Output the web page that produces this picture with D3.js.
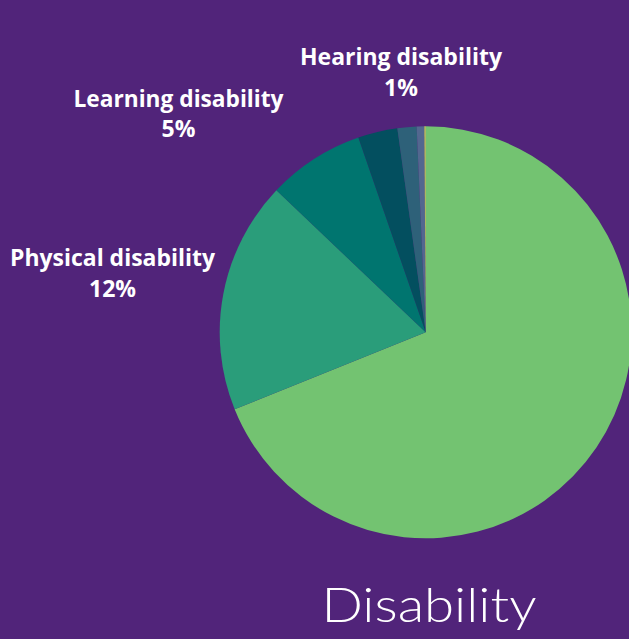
<!DOCTYPE html>
<html>
<head>
<meta charset="utf-8">
<script src="https://cdn.jsdelivr.net/npm/d3@7"></script>
<style>
  html, body { margin: 0; padding: 0; background: #51247a; overflow: hidden; }
  svg { display: block; }
</style>
</head>
<body>
<svg id="chart" width="629" height="639"></svg>
<script>
// Data (share of the pie, in %), clockwise from 12 o'clock
const categories = ["No disability", "Physical disability", "Learning disability", "Mental health condition", "Visual disability", "Hearing disability", "Other"];
const values = [68.9, 18.2, 7.6, 3.1, 1.5, 0.6, 0.1];
const colors = ["#73c371", "#2a9d7a", "#00756f", "#034f5f", "#2e6179", "#53678f", "#d2e25a"];

// Annotation labels as printed on the chart
const labelNames = ["Hearing disability", "Learning disability", "Physical disability"];
const labelValues = ["1%", "5%", "12%"];
const title = "Disability";

const svg = d3.select("#chart");
const W = 629, H = 639;
const cx = 425.7, cy = 332.3, R = 206;

svg.append("rect").attr("width", W).attr("height", H).attr("fill", "#51247a");

const pie = d3.pie().sort(null).value(d => d.v);
const arc = d3.arc().innerRadius(0).outerRadius(R);
const data = categories.map((c, i) => ({ c, v: values[i], col: colors[i] }));

svg.append("g")
  .attr("transform", `translate(${cx},${cy})`)
  .selectAll("path")
  .data(pie(data))
  .join("path")
  .attr("d", arc)
  .attr("fill", d => d.data.col);

// Labels
const labelPos = [
  { x: 401, y: 65, w: 202 },
  { x: 178.5, y: 106.5, w: 210 },
  { x: 112.5, y: 266, w: 205 }
];
const lg = svg.append("g")
  .attr("font-family", "'Open Sans', 'Noto Sans', sans-serif")
  .attr("font-weight", 700)
  .attr("font-size", 23)
  .attr("fill", "#ffffff")
  .attr("text-anchor", "middle");

labelNames.forEach((n, i) => {
  const p = labelPos[i];
  lg.append("text").attr("x", p.x).attr("y", p.y)
    .attr("textLength", p.w).attr("lengthAdjust", "spacingAndGlyphs")
    .text(n);
  lg.append("text").attr("x", p.x).attr("y", p.y + 30.5)
    .text(labelValues[i]);
});

svg.append("text")
  .attr("x", 321.5).attr("y", 622)
  .attr("font-family", "Lato, 'Open Sans', sans-serif")
  .attr("font-weight", 300)
  .attr("font-size", 48)
  .attr("fill", "#ffffff")
  .attr("textLength", 215)
  .attr("lengthAdjust", "spacingAndGlyphs")
  .text(title);
</script>
</body>
</html>
